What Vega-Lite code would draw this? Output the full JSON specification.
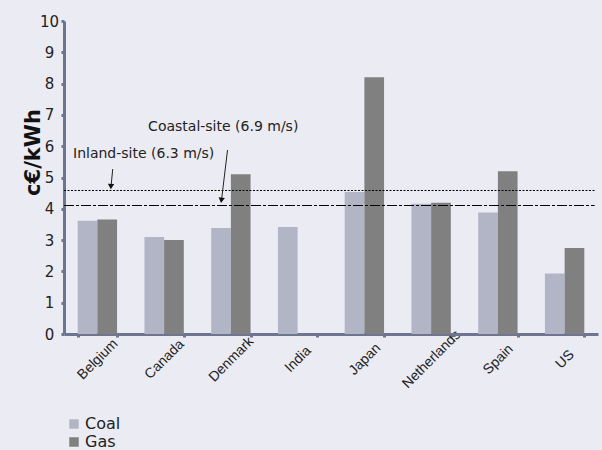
{
  "$schema": "https://vega.github.io/schema/vega-lite/v6.json",
  "autosize": {"type": "none"},
  "padding": {"left": 64, "top": 21, "right": 4, "bottom": 116},
  "width": 534,
  "height": 313,
  "background": "#ebebf3",
  "config": {
    "view": {"stroke": null},
    "font": "Liberation Sans",
    "axis": {"grid": false},
    "axisY": {
      "titleFont": "DejaVu Sans",
      "titleFontSize": 21,
      "titleFontWeight": "bold",
      "titleColor": "#111111",
      "titleY": 131,
      "titleX": -21,
      "titleBaseline": "bottom",
      "labelOverlap": false,
      "labelFont": "DejaVu Sans",
      "labelFontSize": 15,
      "labelColor": "#222222",
      "labelAlign": "center",
      "labelPadding": 12,
      "domainColor": "#6e7591",
      "domainWidth": 3,
      "tickColor": "#6e7591",
      "tickWidth": 3,
      "tickSize": 3
    }
  },
  "datasets": {
    "bars": [
      {"country": "Belgium", "fuel": "Coal", "cost": 3.62},
      {"country": "Belgium", "fuel": "Gas", "cost": 3.66},
      {"country": "Canada", "fuel": "Coal", "cost": 3.1},
      {"country": "Canada", "fuel": "Gas", "cost": 3.0},
      {"country": "Denmark", "fuel": "Coal", "cost": 3.39},
      {"country": "Denmark", "fuel": "Gas", "cost": 5.1},
      {"country": "India", "fuel": "Coal", "cost": 3.42},
      {"country": "Japan", "fuel": "Coal", "cost": 4.54},
      {"country": "Japan", "fuel": "Gas", "cost": 8.2},
      {"country": "Netherlands", "fuel": "Coal", "cost": 4.16},
      {"country": "Netherlands", "fuel": "Gas", "cost": 4.19},
      {"country": "Spain", "fuel": "Coal", "cost": 3.88},
      {"country": "Spain", "fuel": "Gas", "cost": 5.2},
      {"country": "US", "fuel": "Coal", "cost": 1.93},
      {"country": "US", "fuel": "Gas", "cost": 2.75}
    ],
    "lines": [
      {"site": "Inland", "x": 0, "x2": 7.95, "y": 4.585},
      {"site": "Coastal", "x": 0, "x2": 7.95, "y": 4.105}
    ],
    "labels": [
      {"label": "Coastal-site (6.9 m/s)", "x": 1.26, "y": 6.62},
      {"label": "Inland-site (6.3 m/s)", "x": 0.135, "y": 5.76}
    ],
    "arrows": [
      {"site": "Inland", "x": 0.73, "y": 5.27, "x2": 0.705, "y2": 4.72},
      {"site": "Coastal", "x": 2.45, "y": 5.88, "x2": 2.36, "y2": 4.28}
    ],
    "heads": [
      {"site": "Inland", "x": 0.703, "y": 4.71, "angle": 2},
      {"site": "Coastal", "x": 2.358, "y": 4.27, "angle": 7}
    ]
  },
  "layer": [
    {
      "data": {"name": "bars"},
      "mark": {"type": "bar"},
      "encoding": {
        "x": {
          "field": "country",
          "type": "nominal",
          "sort": null,
          "scale": {"paddingInner": 0.41, "paddingOuter": 0.205},
          "axis": {
            "title": null,
            "labelAngle": -45,
            "labelAlign": "center",
            "labelBaseline": "middle",
            "labelPadding": 22,
            "labelFontSize": 14,
            "labelColor": "#222222",
            "domainColor": "#6e7591",
            "domainWidth": 3,
            "tickBand": "extent",
            "tickColor": "#6e7591",
            "tickWidth": 3,
            "tickSize": 3
          }
        },
        "xOffset": {"field": "fuel", "type": "nominal", "sort": ["Coal", "Gas"]},
        "y": {
          "field": "cost",
          "type": "quantitative",
          "scale": {"domain": [0, 10], "nice": false},
          "axis": {"title": "c€/kWh", "values": [0, 1, 2, 3, 4, 5, 6, 7, 8, 9, 10]}
        },
        "color": {
          "field": "fuel",
          "type": "nominal",
          "sort": ["Coal", "Gas"],
          "scale": {"domain": ["Coal", "Gas"], "range": ["#b2b5c6", "#808080"]},
          "legend": {
            "title": null,
            "orient": "none",
            "legendX": 2,
            "legendY": 395,
            "symbolType": "square",
            "symbolSize": 90,
            "symbolStrokeWidth": 0,
            "labelFont": "DejaVu Sans",
            "labelFontSize": 16,
            "labelColor": "#222222",
            "rowPadding": 2,
            "labelOffset": 3
          }
        }
      }
    },
    {
      "data": {"name": "lines"},
      "mark": {"type": "rule", "color": "#000000", "strokeWidth": 1},
      "encoding": {
        "x": {"field": "x", "type": "quantitative", "scale": {"domain": [0, 8], "nice": false}, "axis": null},
        "x2": {"field": "x2"},
        "y": {"field": "y", "type": "quantitative", "axis": {"title": "c€/kWh", "values": [0, 1, 2, 3, 4, 5, 6, 7, 8, 9, 10]}},
        "strokeDash": {
          "field": "site",
          "type": "nominal",
          "scale": {"domain": ["Inland", "Coastal"], "range": [[2, 1.5], [10, 2, 3, 2]]},
          "legend": null
        }
      }
    },
    {
      "data": {"name": "labels"},
      "mark": {"type": "text", "align": "left", "baseline": "middle", "font": "DejaVu Sans", "fontSize": 14, "color": "#222222"},
      "encoding": {
        "x": {"field": "x", "type": "quantitative", "scale": {"domain": [0, 8], "nice": false}, "axis": null},
        "y": {"field": "y", "type": "quantitative", "axis": {"title": "c€/kWh", "values": [0, 1, 2, 3, 4, 5, 6, 7, 8, 9, 10]}},
        "text": {"field": "label"}
      }
    },
    {
      "data": {"name": "arrows"},
      "mark": {"type": "rule", "color": "#222222", "strokeWidth": 1},
      "encoding": {
        "x": {"field": "x", "type": "quantitative", "scale": {"domain": [0, 8], "nice": false}, "axis": null},
        "x2": {"field": "x2"},
        "y": {"field": "y", "type": "quantitative", "axis": {"title": "c€/kWh", "values": [0, 1, 2, 3, 4, 5, 6, 7, 8, 9, 10]}},
        "y2": {"field": "y2"}
      }
    },
    {
      "data": {"name": "heads"},
      "mark": {"type": "point", "shape": "triangle-down", "filled": true, "color": "#111111", "size": 40, "opacity": 1},
      "encoding": {
        "x": {"field": "x", "type": "quantitative", "scale": {"domain": [0, 8], "nice": false}, "axis": null},
        "y": {"field": "y", "type": "quantitative", "axis": {"title": "c€/kWh", "values": [0, 1, 2, 3, 4, 5, 6, 7, 8, 9, 10]}},
        "angle": {"field": "angle", "type": "quantitative", "scale": null}
      }
    }
  ],
  "resolve": {"scale": {"x": "independent"}}
}
